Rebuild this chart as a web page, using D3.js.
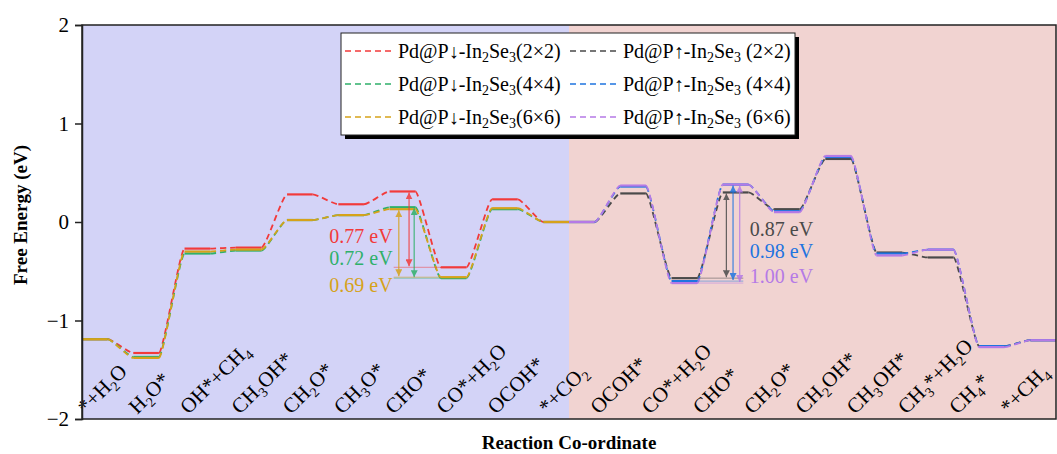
<!DOCTYPE html>
<html>
<head>
<meta charset="utf-8">
<script src="https://cdn.jsdelivr.net/npm/d3@7"></script>
<style>
  body { margin: 0; background: #fff; }
  svg { display: block; }
  text { font-family: "Liberation Serif", "Times New Roman", serif; }
</style>
</head>
<body>
<svg id="chart" width="1057" height="454"></svg>
<script>
// --- DATA ---
// "_" marks the next character as a subscript
var stateLabels = ["*+H_2O", "H_2O*", "OH*+CH_4", "CH_3OH*", "CH_2O*", "CH_3O*", "CHO*", "CO*+H_2O", "OCOH*",
                   "*+CO_2", "OCOH*", "CO*+H_2O", "CHO*", "CH_2O*", "CH_2OH*", "CH_3OH*", "CH_3*+H_2O", "CH_4*", "*+CH_4"];
var yTicks = [2, 1, 0, -1, -2];

// P-down pathway (left half): *+H2O ... *+CO2
var down2x2 = [-1.19, -1.33, -0.27, -0.26, 0.28, 0.18, 0.31, -0.46, 0.23, 0.00];
var down4x4 = [-1.19, -1.37, -0.32, -0.29, 0.02, 0.07, 0.15, -0.57, 0.13, 0.00];
var down6x6 = [-1.19, -1.38, -0.30, -0.28, 0.02, 0.07, 0.13, -0.56, 0.14, 0.00];
// P-up pathway (right half): *+CO2 ... *+CH4
var up2x2 = [0.00, 0.29, -0.57, 0.30, 0.13, 0.64, -0.31, -0.36, -1.26, -1.20];
var up4x4 = [0.00, 0.36, -0.60, 0.38, 0.11, 0.66, -0.32, -0.28, -1.26, -1.20];
var up6x6 = [0.00, 0.37, -0.62, 0.38, 0.10, 0.67, -0.34, -0.28, -1.27, -1.20];

var seriesNames = ["Pd@P↓-In_2Se_3(2×2)", "Pd@P↓-In_2Se_3(4×4)", "Pd@P↓-In_2Se_3(6×6)",
                   "Pd@P↑-In_2Se_3 (2×2)", "Pd@P↑-In_2Se_3 (4×4)", "Pd@P↑-In_2Se_3 (6×6)"];
var barrierLabels = ["0.77 eV", "0.72 eV", "0.69 eV", "0.87 eV", "0.98 eV", "1.00 eV"];

(function() {
// --- CONFIG ---
var colors = ["#f23a3a", "#2fb06a", "#d6a21a", "#4a4a4a", "#1f74e0", "#b57ae6"];
var series = [
    { name: seriesNames[0], values: down2x2, color: colors[0], half: 0, arrowAt: 0.38 },
    { name: seriesNames[1], values: down4x4, color: colors[1], half: 0, arrowAt: 0.48 },
    { name: seriesNames[2], values: down6x6, color: colors[2], half: 0, arrowAt: 0.18 },
    { name: seriesNames[3], values: up2x2, color: colors[3], half: 1, arrowAt: 0.07 },
    { name: seriesNames[4], values: up4x4, color: colors[4], half: 1, arrowAt: 0.20 },
    { name: seriesNames[5], values: up6x6, color: colors[5], half: 1, arrowAt: 0.33 }
];

var svg = d3.select("#chart");
var pLeft = 82, pRight = 1056, pTop = 25, pBottom = 419;

var x = d3.scaleLinear().domain([0, 19]).range([pLeft, pRight]);
var y = d3.scaleLinear().domain([-2, 2]).range([pBottom, pTop]);

// level start in x units: left half at i, right half at 9.5 + k
function levelStart(s, i) { return s.half === 0 ? i : 9.5 + i; }
var levelW = 0.5;

// write text with subscripts
function richText(sel, str, subSize, shift) {
    var parts = [];
    for (var i = 0; i < str.length; i++) {
        if (str[i] === "_") { parts.push({ t: str[i + 1], sub: true }); i++; }
        else {
            if (parts.length && !parts[parts.length - 1].sub) parts[parts.length - 1].t += str[i];
            else parts.push({ t: str[i], sub: false });
        }
    }
    var prevSub = false;
    parts.forEach(function(p) {
        var ts = sel.append("tspan").text(p.t);
        if (p.sub) { ts.attr("font-size", subSize).attr("dy", shift); prevSub = true; }
        else if (prevSub) { ts.attr("dy", -shift); prevSub = false; }
    });
}

// --- BACKGROUND ---
svg.append("rect").attr("x", x(0)).attr("y", pTop).attr("width", x(9.5) - x(0)).attr("height", pBottom - pTop)
    .attr("fill", "#d3d3f7");
svg.append("rect").attr("x", x(9.5)).attr("y", pTop).attr("width", x(19) - x(9.5)).attr("height", pBottom - pTop)
    .attr("fill", "#f1d3d1");

// --- STATE LABELS ---
stateLabels.forEach(function(lab, i) {
    var t = svg.append("text")
        .attr("transform", "translate(" + (x(i) + 4) + "," + 415 + ") rotate(-45)")
        .attr("font-size", 21).attr("fill", "#000");
    richText(t, lab, 14, 5);
});

// --- ENERGY PROFILES ---
var g = svg.append("g");
series.forEach(function(s) {
    s.values.forEach(function(v, i) {
        var x0 = x(levelStart(s, i)), x1 = x(levelStart(s, i) + levelW);
        g.append("line").attr("x1", x0).attr("x2", x1).attr("y1", y(v)).attr("y2", y(v))
            .attr("stroke", s.color).attr("stroke-width", 2.2);
        if (i < s.values.length - 1) {
            var xa = x1, ya = y(v), xb = x(levelStart(s, i + 1)), yb = y(s.values[i + 1]);
            var dx = xb - xa;
            var p = d3.path();
            p.moveTo(xa, ya);
            p.bezierCurveTo(xa + dx * 0.18, ya, xb - dx * 0.18, yb, xb, yb);
            g.append("path").attr("d", p.toString()).attr("fill", "none")
                .attr("stroke", s.color).attr("stroke-width", 1.8).attr("stroke-dasharray", "6,4");
        }
    });
});

// --- BARRIER ARROWS ---
var defs = svg.append("defs");
series.forEach(function(s, si) {
    defs.append("marker").attr("id", "ah" + si)
        .attr("viewBox", "0 0 10 10").attr("refX", 10).attr("refY", 5)
        .attr("markerWidth", 7).attr("markerHeight", 7).attr("markerUnits", "userSpaceOnUse")
        .attr("orient", "auto-start-reverse")
        .append("path").attr("d", "M0,0L10,5L0,10Z").attr("fill", s.color);
});
series.forEach(function(s, si) {
    var hi = s.half === 0 ? 6 : 3, lo = s.half === 0 ? 7 : 2;
    var ax = x(levelStart(s, hi) + s.arrowAt);
    // guide line at the low level
    var gx0 = s.half === 0 ? x(levelStart(s, hi) + 0.08) : x(levelStart(s, lo) + levelW);
    var gx1 = s.half === 0 ? x(levelStart(s, lo)) : x(levelStart(s, hi) + 0.4);
    g.append("line").attr("x1", gx0).attr("x2", gx1).attr("y1", y(s.values[lo])).attr("y2", y(s.values[lo]))
        .attr("stroke", s.color).attr("stroke-width", 1).attr("opacity", 0.5);
    g.append("line").attr("x1", ax).attr("x2", ax)
        .attr("y1", y(s.values[hi]) + 1).attr("y2", y(s.values[lo]) - 1)
        .attr("stroke", s.color).attr("stroke-width", 1.2).attr("opacity", 0.85)
        .attr("marker-start", "url(#ah" + si + ")").attr("marker-end", "url(#ah" + si + ")");
});

// barrier values
var labelY = [243, 265, 292, 236, 258, 283];
series.forEach(function(s, si) {
    svg.append("text")
        .attr("x", s.half === 0 ? x(6) + 3 : x(12.5) + 27)
        .attr("y", labelY[si])
        .attr("text-anchor", s.half === 0 ? "end" : "start")
        .attr("font-size", 20).attr("fill", s.color)
        .text(barrierLabels[si]);
});

// --- AXES / FRAME ---
svg.append("rect").attr("x", pLeft).attr("y", pTop).attr("width", pRight - pLeft).attr("height", pBottom - pTop)
    .attr("fill", "none").attr("stroke", "#222").attr("stroke-width", 1.5);

var yAxis = svg.append("g").attr("transform", "translate(" + pLeft + ",0)")
    .call(d3.axisLeft(y).tickValues(yTicks).tickSize(7).tickPadding(6).tickFormat(d3.format("d")));
yAxis.select(".domain").attr("stroke", "#222").attr("stroke-width", 1.5);
yAxis.selectAll(".tick line").attr("stroke", "#222").attr("stroke-width", 1.5);
yAxis.selectAll(".tick text").attr("font-size", 21).attr("fill", "#000")
    .attr("font-family", "Liberation Serif");

svg.append("text")
    .attr("transform", "translate(27,215) rotate(-90)")
    .attr("text-anchor", "middle").attr("font-size", 19).attr("font-weight", "bold")
    .text("Free Energy (eV)");
svg.append("text")
    .attr("x", (pLeft + pRight) / 2).attr("y", 449)
    .attr("text-anchor", "middle").attr("font-size", 19).attr("font-weight", "bold")
    .text("Reaction Co-ordinate");

// --- LEGEND ---
var lg = svg.append("g");
lg.append("rect").attr("x", 345).attr("y", 37).attr("width", 454).attr("height", 102).attr("fill", "#000");
lg.append("rect").attr("x", 341).attr("y", 33).attr("width", 454).attr("height", 102)
    .attr("fill", "#fff").attr("stroke", "#222").attr("stroke-width", 1);
var rowY = [51, 84, 117];
series.forEach(function(s, si) {
    var col = s.half, row = si % 3;
    var lx = col === 0 ? 345 : 570;
    lg.append("line").attr("x1", lx).attr("x2", lx + 47).attr("y1", rowY[row]).attr("y2", rowY[row])
        .attr("stroke", s.color).attr("stroke-width", 1.6).attr("stroke-dasharray", "6,4");
    var t = lg.append("text").attr("x", lx + 53).attr("y", rowY[row] + 6.5)
        .attr("font-size", 20).attr("fill", "#000");
    richText(t, s.name, 14, 4);
});
})();
</script>
</body>
</html>
